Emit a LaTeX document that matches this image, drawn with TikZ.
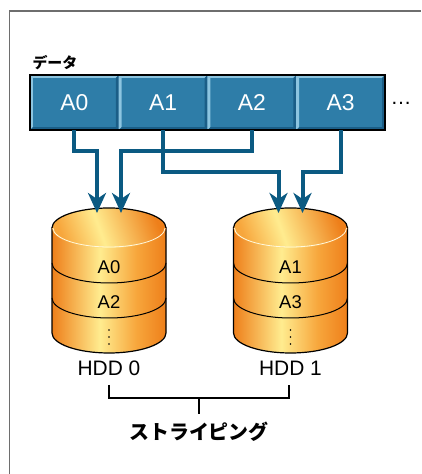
\documentclass[tikz,border=0pt]{standalone}
\usepackage{fontspec}
\setmainfont{Liberation Sans}
\newfontfamily\jpfont{Noto Sans CJK JP}
\usetikzlibrary{arrows.meta}
\definecolor{cellblue}{HTML}{2E7DA8}
\definecolor{cellhi}{HTML}{8DC5E0}
\definecolor{celllo}{HTML}{1B5E87}
\definecolor{linkblue}{HTML}{0B5A82}
\definecolor{diskorange}{HTML}{EE7F1A}
\definecolor{diskmid}{HTML}{F7A63C}
\definecolor{diskyellow}{HTML}{FFEC8F}
\definecolor{framegray}{HTML}{6E6E6E}
\pgfdeclarehorizontalshading{diskbody}{100bp}{color(0bp)=(diskorange); color(25bp)=(diskorange);
  color(46bp)=(diskyellow); color(62bp)=(diskmid); color(75bp)=(diskorange); color(100bp)=(diskorange)}
\pgfdeclarehorizontalshading{disktop}{100bp}{color(0bp)=(diskmid); color(25bp)=(diskmid);
  color(45bp)=(diskyellow); color(75bp)=(diskorange); color(100bp)=(diskorange)}
\tikzset{
  cell/.style={minimum width=88.75bp,minimum height=55bp,inner sep=0pt,
    fill=cellblue,text=white,font=\fontsize{23}{23}\selectfont},
  link/.style={line width=4bp,linkblue,-{Stealth[length=20bp,width=18bp,inset=6bp]}},
  bracketline/.style={line width=2bp},
  disklbl/.style={font=\fontsize{18.5}{18.5}\selectfont},
}
\begin{document}
\begin{tikzpicture}[x=1bp,y=1bp]
\useasboundingbox (0,0) rectangle (421,474);
\draw[framegray,line width=1.5bp] (9.5,0) -- (9.5,463) -- (421,463);

\node[anchor=west,font=\jpfont\bfseries\fontsize{15}{15}\selectfont] (datalbl) at (29,411) {データ};
\foreach \i in {0,...,3}
  \node[cell] (a\i) at (74.4+88.75*\i,371.5) {A\i};
\foreach \i in {0,...,3} {
  \fill[cellhi] (a\i.north west) -- (a\i.north east) -- ++(-3,-3)
    -- ([shift={(3,-3)}]a\i.north west) -- ([shift={(3,3)}]a\i.south west)
    -- (a\i.south west) -- cycle;
  \fill[celllo] (a\i.south east) -- (a\i.north east) -- ++(-3,-3)
    -- ([shift={(-3,3)}]a\i.south east) -- ([shift={(3,3)}]a\i.south west)
    -- (a\i.south west) -- cycle;
}
\draw[line width=1.5bp] (a0.north west) rectangle (a3.south east);
\node[anchor=base west,font=\fontsize{21}{21}\selectfont] (more) at (387,369) {…};

\foreach \n/\x/\ta/\tb in {0/109/A0/A2,1/290.5/A1/A3} {
  \shade[shading=diskbody,draw,line width=1.2bp] (\x-57,246) -- (\x-57,141)
    arc[start angle=180,end angle=360,x radius=57,y radius=20] -- (\x+57,246) -- cycle;
  \foreach \y in {211,176}
    \draw[line width=1bp] (\x-57,\y) arc[start angle=180,end angle=360,x radius=57,y radius=20];
  \shade[shading=disktop,shading angle=20] (\x,246) ellipse [x radius=57,y radius=20];
  \draw[line width=1.2bp] (\x-57,246) arc[start angle=180,end angle=0,x radius=57,y radius=20];
  \draw[diskyellow!30!white,line width=0.8bp] (\x-56,246) arc[start angle=180,end angle=360,x radius=56,y radius=19];
  \node[disklbl] (d\n a) at (\x,207) {\ta};
  \node[disklbl] (d\n b) at (\x,172) {\tb};
  \foreach \d in {-7,0,7}
    \fill (\x,137+\d) circle (0.9bp);
  \node[font=\fontsize{21}{21}\selectfont] (hdd\n) at (\x,106) {HDD \n};
  \coordinate (h\n-l) at (\x-12,261);
  \coordinate (h\n-r) at (\x+12,261);
}

\draw[link] (a0.south) -- ++(0,-21) -| (h0-l);
\draw[link] (a2.south) -- ++(0,-21) -| (h0-r);
\draw[link] (a1.south) -- ++(0,-42) -| (h1-l);
\draw[link] (a3.south) -- ++(0,-42) -| (h1-r);

\draw[bracketline] (109,89) |- (199,76) coordinate (brmid) -| (289,89);
\draw[bracketline] (brmid) -- ++(0,-16);
\node[font=\jpfont\bfseries\fontsize{20}{20}\selectfont] (stripe) at (199,42) {ストライピング};
\end{tikzpicture}
\end{document}
